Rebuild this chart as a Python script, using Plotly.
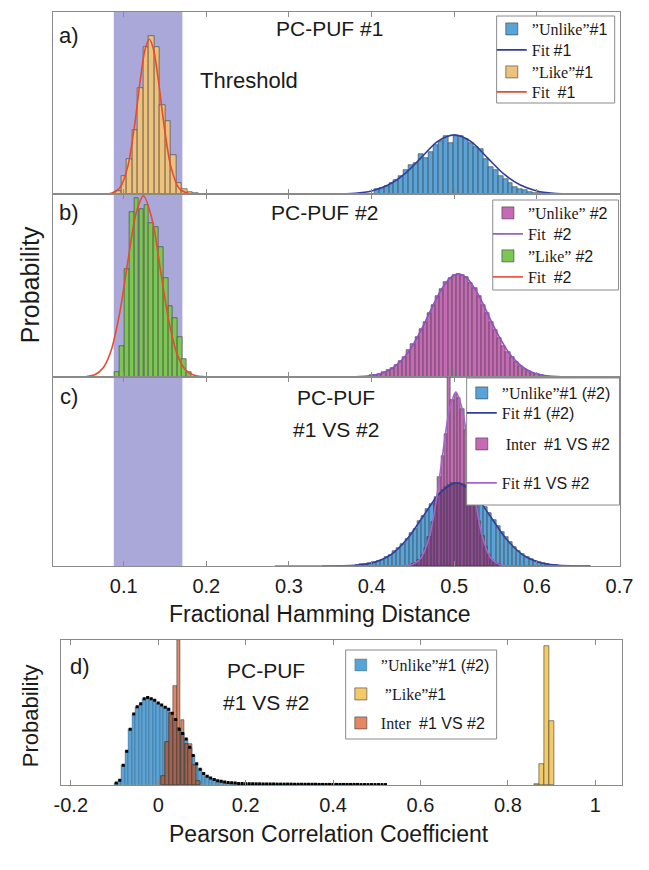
import numpy as np
import plotly.graph_objects as go

W, H = 649, 870
def px(x): return x / W
def py(y): return 1 - y / H

# ---------------- data (heights in arbitrary probability units) ----------------
# panel a
a_unlike_x = [0.406,0.412,0.418,0.424,0.430,0.436,0.442,0.448,0.454,0.460,0.466,0.472,0.478,0.484,0.490,0.496,0.502,
              0.508,0.514,0.520,0.526,0.532,0.538,0.544,0.550,0.556,0.562,0.568,0.574,0.580,0.586,0.592,0.598,0.604]
a_unlike_y = [0.025,0.035,0.045,0.060,0.075,0.100,0.130,0.160,0.170,0.220,0.200,0.230,0.270,0.290,0.320,0.280,0.320,
              0.320,0.300,0.280,0.260,0.250,0.190,0.150,0.130,0.100,0.080,0.060,0.040,0.030,0.020,0.012,0.008,0.004]
a_unlike_fit_x = [0.35,0.38,0.40,0.42,0.44,0.46,0.48,0.50,0.52,0.54,0.56,0.58,0.60,0.62,0.65,0.70]
a_unlike_fit_y = [0.0,0.004,0.017,0.049,0.110,0.200,0.289,0.325,0.289,0.200,0.110,0.049,0.017,0.0045,0.0004,0.0]
a_like_x = [0.0936,0.1003,0.1070,0.1136,0.1203,0.1270,0.1336,0.1403,0.1470,0.1536,0.1603,0.1670,0.1736,0.1803,0.1870]
a_like_y = [0.015,0.097,0.190,0.350,0.585,0.810,0.870,0.810,0.490,0.400,0.215,0.060,0.030,0.010,0.004]
a_like_fit_x = [0.055,0.075,0.085,0.095,0.105,0.113,0.120,0.126,0.131,0.136,0.142,0.149,0.157,0.167,0.177,0.187,0.20,0.70]
a_like_fit_y = [0.0,0.0003,0.004,0.031,0.152,0.372,0.624,0.797,0.850,0.797,0.624,0.372,0.152,0.031,0.004,0.0003,0.0,0.0]

# panel b
b_unlike_x = [0.400,0.405,0.410,0.415,0.420,0.425,0.430,0.435,0.440,0.445,0.450,0.455,0.460,0.465,0.470,0.475,0.480,
              0.485,0.490,0.495,0.500,0.505,0.510,0.515,0.520,0.525,0.530,0.535,0.540,0.545,0.550,0.555,0.560,0.565,
              0.570,0.575,0.580,0.585,0.590,0.595,0.600,0.605,0.610]
b_unlike_y = [0.010,0.013,0.018,0.026,0.036,0.050,0.066,0.088,0.112,0.145,0.178,0.218,0.262,0.300,0.352,0.395,0.445,
              0.480,0.520,0.540,0.556,0.563,0.560,0.545,0.512,0.485,0.445,0.395,0.352,0.300,0.255,0.212,0.172,0.138,
              0.108,0.082,0.062,0.046,0.033,0.024,0.016,0.011,0.008]
b_unlike_fit_x = [0.35,0.375,0.385,0.395,0.405,0.415,0.425,0.435,0.445,0.455,0.465,0.475,0.485,0.495,0.505,
                  0.515,0.525,0.535,0.545,0.555,0.565,0.575,0.585,0.595,0.605,0.615,0.625,0.635,0.66]
b_unlike_fit_y = [0.0,0.0008,0.0022,0.0053,0.012,0.025,0.048,0.085,0.140,0.215,0.303,0.398,0.482,0.542,0.563,
                  0.542,0.482,0.398,0.303,0.215,0.140,0.085,0.048,0.025,0.012,0.0053,0.0022,0.0008,0.0]
b_like_x = [0.092,0.098,0.104,0.110,0.1155,0.1215,0.1275,0.133,0.139,0.145,0.151,0.1565,0.162,0.168,0.173,0.179]
b_like_y = [0.03,0.17,0.59,0.90,0.98,0.92,0.94,0.84,0.82,0.71,0.54,0.39,0.32,0.22,0.10,0.03]
b_like_fit_x = [0.055,0.065,0.075,0.085,0.095,0.105,0.115,0.124,0.135,0.145,0.155,0.165,0.175,0.185,0.195,0.21,0.70]
b_like_fit_y = [0.003,0.012,0.049,0.148,0.346,0.630,0.895,0.990,0.850,0.570,0.298,0.121,0.038,0.0093,0.0018,0.0001,0.0]

# panel c
c_unlike_x = [0.383,0.388,0.393,0.398,0.403,0.408,0.413,0.418,0.423,0.428,0.433,0.438,0.443,0.448,0.453,0.458,0.463,
              0.468,0.473,0.478,0.483,0.488,0.493,0.498,0.503,0.508,0.513,0.518,0.523,0.528,0.533,0.538,0.543,0.548,
              0.553,0.558,0.563,0.568,0.573,0.578,0.583,0.588,0.593,0.598,0.603,0.608,0.613,0.618,0.623]
c_unlike_y = [0.006,0.008,0.010,0.015,0.020,0.027,0.034,0.047,0.058,0.078,0.094,0.119,0.141,0.174,0.198,0.236,0.265,
              0.303,0.330,0.365,0.386,0.413,0.424,0.438,0.440,0.440,0.430,0.418,0.398,0.372,0.345,0.312,0.280,0.246,
              0.212,0.182,0.152,0.125,0.101,0.081,0.063,0.049,0.037,0.027,0.020,0.014,0.010,0.007,0.005]
c_unlike_fit_x = [0.34,0.363,0.383,0.403,0.423,0.443,0.463,0.483,0.503,0.523,0.543,0.563,0.583,0.603,0.623,0.643,0.665]
c_unlike_fit_y = [0.0,0.001,0.005,0.019,0.059,0.143,0.267,0.388,0.440,0.388,0.267,0.143,0.059,0.019,0.005,0.001,0.0]
c_inter_x = [0.450,0.454,0.458,0.462,0.466,0.470,0.474,0.478,0.482,0.486,0.490,0.494,0.498,0.502,0.506,0.510,0.514,
             0.518,0.522,0.526,0.530,0.534,0.538,0.542,0.546,0.550,0.554]
c_inter_y = [0.008,0.017,0.033,0.056,0.095,0.155,0.235,0.345,0.470,0.580,0.700,1.000,0.880,0.910,0.890,0.830,0.720,
             0.600,0.470,0.350,0.240,0.160,0.100,0.060,0.034,0.018,0.009]
c_inter_fit_x = [0.283,0.40,0.43,0.44,0.45,0.46,0.47,0.478,0.486,0.494,0.502,0.510,0.518,0.526,0.534,0.544,0.554,0.564,0.58,0.658]
c_inter_fit_y = [0.0,0.0,0.0001,0.0012,0.0086,0.044,0.156,0.339,0.591,0.823,0.920,0.823,0.591,0.339,0.156,0.044,0.0086,0.0012,0.0,0.0]

# panel d
d_unlike_x = np.round(np.arange(-0.096, 0.5201, 0.008), 3)
d_unlike_y = [0.013,0.032,0.137,0.232,0.385,0.490,0.540,0.560,0.594,0.604,0.594,0.585,0.566,0.552,0.537,0.522,0.495,
              0.451,0.385,0.356,0.318,0.261,0.204,0.147,0.109,0.080,0.061,0.048,0.038,0.030,0.025,0.021,0.017,0.015,
              0.013,0.011,0.010,0.009,
              0.009,0.008,0.008,0.008,0.007,0.007,0.007,0.007,0.006,0.006,0.006,0.006,0.006,0.005,0.005,0.005,0.005,
              0.005,0.005,0.005,0.004,0.004,0.004,0.004,0.004,0.004,0.004,0.004,0.004,0.004,0.004,0.004,0.003,0.003,
              0.003,0.003,0.003,0.003,0.003,0.003]
d_inter_x = [0.012,0.021,0.030,0.039,0.047,0.056,0.065,0.073,0.082,0.091]
d_inter_y = [0.06,0.30,0.50,0.68,1.00,0.45,0.28,0.28,0.14,0.03]
d_like_x = [0.865,0.877,0.889,0.901]
d_like_y = [0.010,0.147,0.956,0.440]

# ---------------- colours ----------------
BLUE = '#58a3d8'
TAN = '#ecc27c'
PINK = '#c66ab6'
GREEN = '#7cc653'
YELLOW = '#f4ca66'
ORANGE = '#e48762'
FIT_BLUE = '#2e3e9c'
FIT_RED = '#ea4a2e'
FIT_PURPLE = '#8d52c2'
FIT_LPURPLE = '#a466c8'
EDGE = '#3c3c3c'
AX = '#8a8a8a'

SANS = 'Liberation Sans'
SERIF = 'Liberation Serif'
def s(t):
    return f'<span style="font-family:{SANS}">{t}</span>'

fig = go.Figure()
legends = {}
boxes = []
LEGFONT = dict(family=SERIF, size=16, color='#1a1a1a')

def legend_row(lid, box_left, yc):
    legends[lid] = dict(x=px(box_left - 5), y=py(yc), xanchor='left', yanchor='middle', xref='paper', yref='paper',
                        bgcolor='rgba(0,0,0,0)', borderwidth=0, font=LEGFONT, itemwidth=30)

def bar(x, y, w, color, name, xa, ya, leg=None, op=1.0, lw=0.6):
    fig.add_trace(go.Bar(x=x, y=y, width=w, name=name, xaxis=xa, yaxis=ya, legend=leg or 'legend',
                         marker=dict(color=color, line=dict(color=EDGE, width=lw)), opacity=op,
                         showlegend=leg is not None))

def line(x, y, color, name, xa, ya, leg, width=1.6):
    fig.add_trace(go.Scatter(x=x, y=y, mode='lines', name=name, xaxis=xa, yaxis=ya, legend=leg,
                             line=dict(color=color, width=width, shape='spline', smoothing=0.8)))

# panel a
bar(a_unlike_x, a_unlike_y, 0.006, BLUE, '”Unlike”' + s('#1'), 'x', 'y', 'legend')
line(a_unlike_fit_x, a_unlike_fit_y, FIT_BLUE, 'Fit ' + s('#1'), 'x', 'y', 'legend2')
bar(a_like_x, a_like_y, 0.00667, TAN, '”Like”' + s('#1'), 'x', 'y', 'legend3')
line(a_like_fit_x, a_like_fit_y, FIT_RED, 'Fit  ' + s('#1'), 'x', 'y', 'legend4')
for lid, yc in zip(['legend', 'legend2', 'legend3', 'legend4'], [29, 50, 72, 92]):
    legend_row(lid, 506, yc)
boxes.append((506, 628, 16, 103))

# panel b
bar(b_unlike_x, b_unlike_y, 0.005, PINK, '”Unlike” ' + s('#2'), 'x2', 'y2', 'legend5')
line(b_unlike_fit_x, b_unlike_fit_y, FIT_PURPLE, 'Fit  ' + s('#2'), 'x2', 'y2', 'legend6')
bar(b_like_x, b_like_y, 0.0059, GREEN, '”Like” ' + s('#2'), 'x2', 'y2', 'legend7')
line(b_like_fit_x, b_like_fit_y, FIT_RED, 'Fit  ' + s('#2'), 'x2', 'y2', 'legend8')
for lid, yc in zip(['legend5', 'legend6', 'legend7', 'legend8'], [213, 234, 256, 277]):
    legend_row(lid, 502, yc)
boxes.append((502, 632, 200, 290))

# panel c
bar(c_unlike_x, c_unlike_y, 0.005, BLUE, '”Unlike”' + s('#1 (#2)'), 'x3', 'y3', 'legend9')
bar(c_inter_x, c_inter_y, 0.004, PINK, ' Inter  ' + s('#1 VS #2'), 'x3', 'y3', 'legend11')
c_ov = np.minimum(np.array(c_inter_y), np.interp(c_inter_x, c_unlike_x, c_unlike_y))
bar(c_inter_x, c_ov, 0.004, '#8c4a90', 'ov', 'x3', 'y3')
line(c_unlike_fit_x, c_unlike_fit_y, FIT_BLUE, 'Fit ' + s('#1 (#2)'), 'x3', 'y3', 'legend10')
line(c_inter_fit_x, c_inter_fit_y, FIT_LPURPLE, 'Fit ' + s('#1 VS #2'), 'x3', 'y3', 'legend12')
for lid, yc in zip(['legend9', 'legend10', 'legend11', 'legend12'], [393, 413, 444, 483]):
    legend_row(lid, 475, yc)
boxes.append((475, 633, 378, 505))

# panel d
bar(d_unlike_x, d_unlike_y, 0.008, BLUE, '”Unlike”' + s('#1 (#2)'), 'x4', 'y4', 'legend13', lw=0.3)
bar(d_like_x, d_like_y, 0.012, YELLOW, ' ”Like”' + s('#1'), 'x4', 'y4', 'legend14')
bar(d_inter_x, d_inter_y, 0.0087, ORANGE, 'Inter  ' + s('#1 VS #2'), 'x4', 'y4', 'legend15')
d_ov = np.minimum(np.array(d_inter_y), np.interp(d_inter_x, d_unlike_x, d_unlike_y))
bar(d_inter_x, d_ov, 0.0087, '#a4634c', 'ov', 'x4', 'y4')
fig.add_trace(go.Scatter(x=d_unlike_x, y=d_unlike_y, mode='markers', xaxis='x4', yaxis='y4',
                         marker=dict(symbol='square', size=3, color='black'), showlegend=False))
for lid, yc in zip(['legend13', 'legend14', 'legend15'], [665, 694, 723]):
    legend_row(lid, 350, yc)
boxes.append((350, 506, 650, 739))

# ---------------- layout ----------------
XD = [px(48), px(633)]
doms = {'a': [py(194), py(12)], 'b': [py(377), py(194)], 'c': [py(566), py(377)], 'd': [py(785), py(640)]}
tickfont = dict(family=SANS, size=20, color='#1a1a1a')
def xax(dom_anchor, show, rng, tv, tt):
    return dict(domain=XD, anchor=dom_anchor, range=rng, showline=True, linecolor=AX, linewidth=1, mirror='ticks',
                ticks='inside', ticklen=5, tickcolor=AX, tickvals=tv, ticktext=tt, showticklabels=show,
                showgrid=False, zeroline=False, tickfont=tickfont, ticklabelstandoff=2)
def yax(dom, anchor):
    return dict(domain=dom, anchor=anchor, range=[0, 1], showline=True, linecolor=AX, linewidth=1, mirror=True,
                ticks='', showticklabels=False, showgrid=False, zeroline=False)

hv = [0.1, 0.2, 0.3, 0.4, 0.5, 0.6, 0.7]
ht = ['0.1', '0.2', '0.3', '0.4', '0.5', '0.6', '0.7']
pv = [-0.2, 0, 0.2, 0.4, 0.6, 0.8, 1.0]
pt = ['-0.2', '0', '0.2', '0.4', '0.6', '0.8', '1']
xr = [0.015, 0.7]

def ann(text, x, y, size=20, **kw):
    return dict(text=text, x=px(x), y=py(y), xref='paper', yref='paper', showarrow=False,
                xanchor='center', yanchor='middle',
                font=dict(family=SANS, size=size, color='#1a1a1a'), **kw)

shapes = [dict(type='rect', xref='x', yref='paper', x0=0.088, x1=0.171, y0=py(566), y1=py(12),
               fillcolor='#a9a8d8', line=dict(width=0), layer='below')]
for (x0, x1, y0, y1) in boxes:
    shapes.append(dict(type='rect', xref='paper', yref='paper', x0=px(x0), x1=px(x1), y0=py(y1), y1=py(y0),
                       fillcolor='white', line=dict(color=AX, width=1), layer='above'))

fig.update_layout(
    width=W, height=H, margin=dict(l=0, r=0, t=0, b=0),
    paper_bgcolor='white', plot_bgcolor='rgba(0,0,0,0)', barmode='overlay', bargap=0,
    xaxis=xax('y', False, xr, hv, ht), yaxis=yax(doms['a'], 'x'),
    xaxis2=xax('y2', False, xr, hv, ht), yaxis2=yax(doms['b'], 'x2'),
    xaxis3=xax('y3', True, xr, hv, ht), yaxis3=yax(doms['c'], 'x3'),
    xaxis4=dict(xax('y4', True, [-0.222, 1.062], pv, pt), domain=[px(56), px(636)]), yaxis4=yax(doms['d'], 'x4'),
    shapes=shapes,
    annotations=[
        ann('a)', 64, 35, 22), ann('PC-PUF #1', 333, 28, 21), ann('Threshold', 250, 80, 22),
        ann('b)', 64, 213, 22), ann('PC-PUF #2', 328, 213, 21),
        ann('c)', 64, 396, 22), ann('PC-PUF', 340, 397, 21), ann('#1 VS #2', 340, 429, 21),
        ann('Probability', 24, 285, 25, textangle=-90),
        ann('Fractional Hamming Distance', 323, 614, 23),
        ann('d)', 75, 666, 22), ann('PC-PUF', 268, 670, 21), ann('#1 VS #2', 268, 702, 21),
        ann('Probability', 24, 716, 22, textangle=-90),
        ann('Pearson Correlation Coefficient', 333, 834, 23),
    ],
)
fig.update_layout(**legends)

fig.write_html('out.html', config={'displayModeBar': False},
               post_script="document.body.style.margin='0px';")
